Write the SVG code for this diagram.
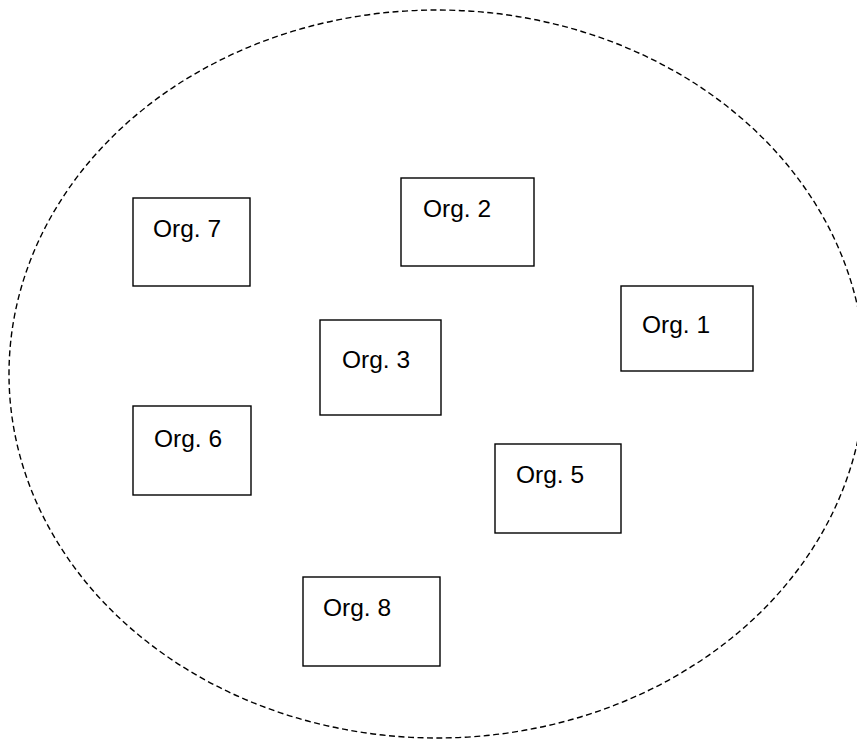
<svg xmlns="http://www.w3.org/2000/svg" width="857" height="740" viewBox="0 0 857 740">
<style>
.box{fill:#fff;stroke:#000;stroke-width:1.4}
.lbl{font-family:"Liberation Sans",Arial,sans-serif;font-size:24.5px;fill:#000}
.boundary{fill:none;stroke:#000;stroke-width:1.4;stroke-dasharray:6 3.5}
</style>
<rect width="857" height="740" fill="#fff"/>
<g id="connectors">
<ellipse class="boundary" cx="437" cy="374" rx="428" ry="364"/>
</g>
<g id="org7"><rect class="box" x="133" y="198" width="117" height="88"/><text class="lbl" x="153" y="237">Org. 7</text></g>
<g id="org2"><rect class="box" x="401" y="178" width="133" height="88"/><text class="lbl" x="423" y="217">Org. 2</text></g>
<g id="org1"><rect class="box" x="621" y="286" width="132" height="85"/><text class="lbl" x="642" y="333">Org. 1</text></g>
<g id="org3"><rect class="box" x="320" y="320" width="121" height="95"/><text class="lbl" x="342" y="368">Org. 3</text></g>
<g id="org6"><rect class="box" x="133" y="406" width="118" height="89"/><text class="lbl" x="154" y="447">Org. 6</text></g>
<g id="org5"><rect class="box" x="495" y="444" width="126" height="89"/><text class="lbl" x="516" y="483">Org. 5</text></g>
<g id="org8"><rect class="box" x="303" y="577" width="137" height="89"/><text class="lbl" x="323" y="616">Org. 8</text></g>
</svg>
